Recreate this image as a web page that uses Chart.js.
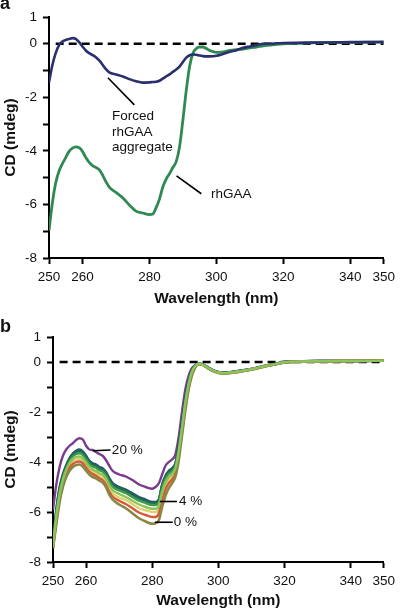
<!DOCTYPE html>
<html>
<head>
<meta charset="utf-8">
<script src="https://cdn.jsdelivr.net/npm/chart.js@4.4.0/dist/chart.umd.min.js"></script>
<style>
body{margin:0;background:#fff;width:400px;height:610px;position:relative;overflow:hidden}
#boxA{position:absolute;left:0;top:0}
#boxB{position:absolute;left:0;top:304px}
</style>
</head>
<body>
<div id="boxA"><canvas id="chartA" width="400" height="308"></canvas></div>
<div id="boxB"><canvas id="chartB" width="400" height="306"></canvas></div>
<script>
// tick labels
var xTicks = [250,260,280,300,320,340,350];
var yTicks = [1,0,-1,-2,-3,-4,-5,-6,-7,-8];
var yLabels = [1,0,-2,-4,-6,-8];
var zeroLine = [252,350];

// panel a
var wlA = [250,251,252,253,254,255,256,257,258,259,260,261,262,263,264,265,266,267,268,270,272,274,276,278,
  280,281,282,283,284,285,286,287,288,289,290,291,292,293,294,295,296,297,298,
  300,302,304,306,308,310,312,314,316,318,320,325,330,335,340,345,350];
var aggregate = [-1.44,-0.8,-0.35,-0.05,0.08,0.14,0.18,0.21,0.18,0.06,-0.1,-0.25,-0.35,-0.42,-0.5,-0.62,-0.78,-0.95,-1.07,-1.15,-1.22,-1.32,-1.4,-1.45,
  -1.44,-1.43,-1.42,-1.38,-1.3,-1.22,-1.14,-1.05,-0.96,-0.85,-0.68,-0.52,-0.43,-0.4,-0.41,-0.44,-0.46,-0.47,-0.47,
  -0.45,-0.38,-0.3,-0.24,-0.15,-0.1,-0.05,0.0,0.0,0.02,0.03,0.04,0.05,0.05,0.06,0.06,0.07];
var rhGAA = [-6.98,-5.95,-5.2,-4.75,-4.48,-4.25,-4.02,-3.9,-3.85,-3.88,-4.02,-4.25,-4.43,-4.55,-4.62,-4.7,-4.9,-5.15,-5.35,-5.55,-5.75,-6.02,-6.25,-6.32,
  -6.38,-6.36,-6.12,-5.8,-5.35,-5.05,-4.85,-4.62,-4.4,-3.85,-2.85,-1.75,-0.85,-0.35,-0.18,-0.12,-0.12,-0.18,-0.25,
  -0.32,-0.3,-0.25,-0.22,-0.2,-0.15,-0.12,-0.08,-0.05,-0.02,0.0,0.02,0.04,0.05,0.05,0.06,0.06];

// panel b
var wlB = [250,251,252,253,254,255,256,257,258,259,260,261,262,263,264,265,266,267,268,270,272,274,276,278,
  280,281,282,283,284,285,286,287,288,289,290,291,292,293,294,295,296,298,300,302,305,308,311,314,317,320,325,330,340,350];
var pct20 = [-5.9,-4.9,-4.2,-3.75,-3.5,-3.35,-3.25,-3.12,-3.05,-3.1,-3.35,-3.5,-3.52,-3.6,-3.68,-3.75,-3.92,-4.15,-4.35,-4.5,-4.58,-4.72,-4.9,-5.0,
  -5.07,-5.0,-4.85,-4.5,-4.15,-4.0,-3.9,-3.7,-3.0,-2.0,-1.1,-0.55,-0.25,-0.12,-0.08,
  -0.08,-0.15,-0.3,-0.4,-0.43,-0.38,-0.32,-0.25,-0.15,-0.08,0.0,0.02,0.04,0.04,0.06];
var navyB = [-7.35,-5.9,-5.0,-4.48,-4.12,-3.84,-3.66,-3.55,-3.5,-3.57,-3.75,-3.95,-4.05,-4.1,-4.2,-4.25,-4.4,-4.64,-4.84,-5.0,-5.1,-5.25,-5.4,-5.5,
  -5.6,-5.6,-5.5,-4.9,-4.55,-4.35,-4.25,-4.05,-3.35,-2.45,-1.45,-0.78,-0.33,-0.14,-0.08,
  -0.08,-0.16,-0.31,-0.41,-0.43,-0.39,-0.33,-0.25,-0.16,-0.08,0.0,0.02,0.03,0.04,0.05];
var pct4 = [-7.4,-6.0,-5.1,-4.55,-4.2,-3.9,-3.72,-3.6,-3.55,-3.62,-3.8,-4.0,-4.1,-4.15,-4.25,-4.3,-4.45,-4.7,-4.9,-5.05,-5.15,-5.3,-5.45,-5.55,
  -5.65,-5.65,-5.55,-4.95,-4.6,-4.4,-4.3,-4.1,-3.4,-2.5,-1.5,-0.8,-0.35,-0.15,-0.08,
  -0.09,-0.16,-0.31,-0.41,-0.44,-0.39,-0.33,-0.26,-0.16,-0.09,0.0,0.02,0.04,0.04,0.06];
var greenB = [-7.4,-6.1,-5.2,-4.62,-4.26,-3.96,-3.78,-3.68,-3.65,-3.72,-3.9,-4.08,-4.18,-4.23,-4.33,-4.38,-4.53,-4.78,-4.98,-5.14,-5.24,-5.4,-5.55,-5.64,
  -5.72,-5.72,-5.62,-5.05,-4.68,-4.48,-4.38,-4.17,-3.5,-2.58,-1.58,-0.85,-0.38,-0.15,-0.08,
  -0.09,-0.17,-0.32,-0.42,-0.44,-0.4,-0.34,-0.26,-0.17,-0.09,-0.01,0.02,0.03,0.04,0.05];
var lightB = [-7.4,-6.2,-5.3,-4.72,-4.32,-4.04,-3.88,-3.8,-3.78,-3.85,-4.02,-4.2,-4.3,-4.36,-4.45,-4.5,-4.66,-4.92,-5.12,-5.28,-5.4,-5.55,-5.7,-5.8,
  -5.87,-5.87,-5.76,-5.2,-4.82,-4.6,-4.48,-4.25,-3.6,-2.65,-1.65,-0.9,-0.4,-0.16,-0.08,
  -0.1,-0.17,-0.32,-0.42,-0.45,-0.4,-0.34,-0.26,-0.17,-0.09,-0.01,0.02,0.03,0.04,0.05];
var yellowB = [-7.42,-6.3,-5.4,-4.8,-4.4,-4.12,-3.98,-3.9,-3.88,-3.95,-4.12,-4.28,-4.38,-4.45,-4.55,-4.6,-4.78,-5.05,-5.25,-5.42,-5.52,-5.68,-5.85,-5.93,
  -6.0,-6.0,-5.88,-5.35,-4.95,-4.72,-4.6,-4.35,-3.7,-2.75,-1.75,-0.98,-0.45,-0.18,-0.08,
  -0.1,-0.18,-0.33,-0.43,-0.45,-0.41,-0.35,-0.27,-0.17,-0.1,-0.01,0.01,0.03,0.04,0.05];
var redB = [-7.45,-6.4,-5.5,-4.9,-4.5,-4.22,-4.08,-4.0,-3.98,-4.05,-4.22,-4.38,-4.48,-4.55,-4.65,-4.72,-4.9,-5.18,-5.38,-5.55,-5.68,-5.85,-6.02,-6.12,
  -6.2,-6.2,-6.05,-5.55,-5.1,-4.85,-4.7,-4.45,-3.8,-2.85,-1.85,-1.05,-0.5,-0.2,-0.09,
  -0.1,-0.18,-0.33,-0.43,-0.46,-0.41,-0.35,-0.27,-0.18,-0.1,-0.02,0.01,0.03,0.04,0.05];
var pct0 = [-7.45,-6.5,-5.6,-5.0,-4.6,-4.35,-4.2,-4.12,-4.1,-4.18,-4.35,-4.5,-4.6,-4.65,-4.75,-4.82,-5.0,-5.3,-5.5,-5.7,-5.85,-6.05,-6.25,-6.38,
  -6.47,-6.45,-6.33,-5.8,-5.35,-5.05,-4.85,-4.6,-3.95,-2.95,-1.95,-1.1,-0.55,-0.22,-0.1,
  -0.1,-0.18,-0.34,-0.44,-0.46,-0.42,-0.35,-0.28,-0.18,-0.1,-0.02,0.01,0.03,0.04,0.05];

var font = '"Liberation Sans", Arial, sans-serif';

function pts(xs, ys) {
  return xs.map(function (x, i) { return {x: x, y: ys[i]}; });
}

function line(label, xs, ys, color, width, order) {
  return {label: label, data: pts(xs, ys), borderColor: color, borderWidth: width,
    pointRadius: 0, fill: false, cubicInterpolationMode: 'monotone', order: order};
}

function dashed() {
  return {label: 'zero', data: [{x: zeroLine[0], y: 0}, {x: zeroLine[1], y: 0}],
    borderColor: '#000', borderWidth: 2.5, borderDash: [8, 5], pointRadius: 0, order: 99};
}

function scales(yWidth, xHeight) {
  return {
    x: {
      type: 'linear', min: 250, max: 350,
      afterBuildTicks: function (s) { s.ticks = xTicks.map(function (v) { return {value: v}; }); },
      afterFit: function (s) { s.height = xHeight; },
      grid: {drawOnChartArea: false, tickLength: 6, tickWidth: 2, color: '#000'},
      border: {display: true, color: '#000', width: 2},
      ticks: {color: '#111', font: {family: font, size: 13.5}, padding: 5, maxRotation: 0, autoSkip: false},
      title: {display: true, text: 'Wavelength (nm)', color: '#111',
        font: {family: font, size: 15.5, weight: 'bold'}, padding: {top: 0, bottom: 0}}
    },
    y: {
      min: -8, max: 1,
      afterBuildTicks: function (s) { s.ticks = yTicks.map(function (v) { return {value: v}; }); },
      afterFit: function (s) { s.width = yWidth; },
      grid: {drawOnChartArea: false, tickLength: 6, tickWidth: 2, color: '#000'},
      border: {display: true, color: '#000', width: 2},
      ticks: {color: '#111', font: {family: font, size: 13.5}, padding: 6, autoSkip: false,
        callback: function (v) { return yLabels.indexOf(v) >= 0 ? String(v) : ''; }},
      title: {display: true, text: 'CD (mdeg)', color: '#111',
        font: {family: font, size: 15.5, weight: 'bold'}, padding: {top: 1, bottom: 0}}
    }
  };
}

var notes = {
  id: 'notes',
  afterDatasetsDraw: function (chart, args, opts) {
    var c = chart.ctx, xs = chart.scales.x, ys = chart.scales.y;
    c.save();
    c.strokeStyle = '#000';
    c.lineWidth = 1.6;
    opts.lines.forEach(function (l) {
      c.beginPath();
      c.moveTo(xs.getPixelForValue(l[0]), ys.getPixelForValue(l[1]));
      c.lineTo(xs.getPixelForValue(l[2]), ys.getPixelForValue(l[3]));
      c.stroke();
    });
    c.fillStyle = '#111';
    c.font = '13.5px ' + font;
    c.textBaseline = 'middle';
    opts.texts.forEach(function (t) {
      t.lines.forEach(function (s, i) {
        c.fillText(s, xs.getPixelForValue(t.x), ys.getPixelForValue(t.y) + i * 15.5);
      });
    });
    c.font = 'bold 18px ' + font;
    c.textBaseline = 'alphabetic';
    c.fillText(opts.panel, 0, opts.panelY);
    c.restore();
  }
};

new Chart(document.getElementById('chartA'), {
  type: 'line',
  data: {datasets: [
    line('Forced rhGAA aggregate', wlA, aggregate, '#2b2f6e', 2.6, 1),
    line('rhGAA', wlA, rhGAA, '#2e8a52', 2.8, 2),
    dashed()
  ]},
  options: {
    responsive: false, animation: false, devicePixelRatio: 1,
    layout: {padding: {top: 17, right: 10, left: 0, bottom: 0}},
    plugins: {
      legend: {display: false}, tooltip: {enabled: false},
      notes: {
        panel: 'a', panelY: 9,
        lines: [[267.6, -1.27, 275.5, -2.28], [288.1, -4.93, 295.5, -5.6]],
        texts: [{x: 268.8, y: -2.72, lines: ['Forced', 'rhGAA', 'aggregate']},
                {x: 298.4, y: -5.63, lines: ['rhGAA']}]
      }
    },
    scales: scales(49, 50)
  },
  plugins: [notes]
});

new Chart(document.getElementById('chartB'), {
  type: 'line',
  data: {datasets: [
    line('lightgreen', wlB, lightB, '#8cc45c', 2.4, 1),
    line('0 %', wlB, pct0, '#8c8646', 2.6, 2),
    line('red', wlB, redB, '#d65a38', 2.4, 3),
    line('yellow', wlB, yellowB, '#dcd46a', 2.4, 4),
    line('green', wlB, greenB, '#3d9a4a', 2.4, 5),
    line('4 %', wlB, pct4, '#1e6b50', 2.8, 6),
    line('navy', wlB, navyB, '#2a4a78', 2.4, 7),
    line('20 %', wlB, pct20, '#7a3b8c', 2.4, 8),
    dashed()
  ]},
  options: {
    responsive: false, animation: false, devicePixelRatio: 1,
    layout: {padding: {top: 33, right: 10, left: 0, bottom: 0}},
    plugins: {
      legend: {display: false}, tooltip: {enabled: false},
      notes: {
        panel: 'b', panelY: 28,
        lines: [[262, -3.55, 267.4, -3.52], [282.3, -5.58, 287.5, -5.58], [280.8, -6.41, 286.2, -6.41]],
        texts: [{x: 267.8, y: -3.55, lines: ['20 %']},
                {x: 288.1, y: -5.58, lines: ['4 %']},
                {x: 286.5, y: -6.41, lines: ['0 %']}]
      }
    },
    scales: scales(53, 48)
  },
  plugins: [notes]
});
</script>
</body>
</html>
